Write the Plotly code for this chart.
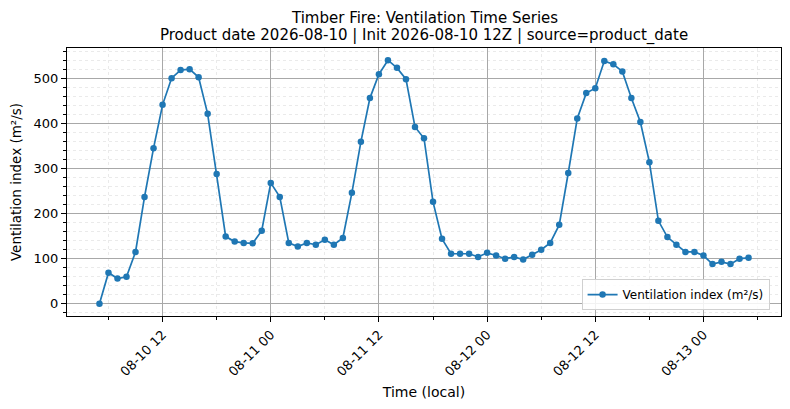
import pandas as pd
import plotly.graph_objects as go

# hourly ventilation index, starting 2026-08-10 05:00 local
start_time = "2026-08-10 05:00"
vent_index = [
    0, 69, 56, 60, 115, 237, 345, 441, 500, 518,
    520, 502, 421, 288, 149, 138, 135, 134, 162, 268,
    237, 135, 127, 135, 131, 142, 131, 146, 246, 359,
    456, 509, 540, 523, 498, 392, 367, 226, 144, 111,
    111, 111, 104, 113, 107, 100, 104, 98, 109, 120,
    135, 175, 290, 411, 467, 478, 538, 531, 515, 456,
    403, 314, 184, 148, 131, 115, 115, 107, 88, 93,
    88, 100, 102,
]
times = pd.date_range(start_time, periods=len(vent_index), freq="h")

title_lines = [
    "Timber Fire: Ventilation Time Series",
    "Product date 2026-08-10 | Init 2026-08-10 12Z | source=product_date",
]
series_name = "Ventilation index (m²/s)"

fig = go.Figure()
fig.add_trace(go.Scatter(
    x=times, y=vent_index, mode="lines+markers", name=series_name,
    line=dict(color="#1f77b4", width=1.7),
    marker=dict(color="#1f77b4", size=6.5),
))

axis_common = dict(
    showline=True, linecolor="black", linewidth=1, mirror=True,
    ticks="outside", ticklen=5, tickcolor="black",
    showgrid=True, gridcolor="#a8a8a8", gridwidth=0.8,
    zeroline=False, tickfont=dict(size=13, color="black"),
    automargin=False,
)
minor_grid = dict(ticks="outside", ticklen=3, tickcolor="black",
                  showgrid=True, gridcolor="#eaeaea", griddash="dot", gridwidth=0.8)

fig.update_xaxes(
    **axis_common,
    range=["2026-08-10 01:24", "2026-08-13 08:36"],
    tick0="2026-08-10 00:00", dtick=12 * 3600 * 1000,
    tickformat="%m-%d %H", tickangle=-45,
    minor=dict(dtick=6 * 3600 * 1000, **minor_grid),
    title=dict(text="Time (local)", font=dict(size=14, color="black"), standoff=9),
)
fig.update_yaxes(
    **axis_common,
    range=[-27, 567], tick0=0, dtick=100,
    minor=dict(dtick=20, **minor_grid),
    title=dict(text=series_name, font=dict(size=13.5, color="black"), standoff=8),
)

# two-line title centred over the plot area
for i, line in enumerate(title_lines):
    fig.add_annotation(
        text=line, x=0.5, y=1, xref="paper", yref="paper",
        xanchor="center", yanchor="bottom", showarrow=False,
        yshift=1 + (len(title_lines) - 1 - i) * 18,
        font=dict(size=15, color="black"),
    )

fig.update_layout(
    width=790, height=409,
    margin=dict(l=67, r=9, t=48, b=93),
    paper_bgcolor="white", plot_bgcolor="white",
    font=dict(family="DejaVu Sans", color="black"),
    legend=dict(x=0.984, y=0.022, xanchor="right", yanchor="bottom",
                bgcolor="rgba(255,255,255,0.85)", bordercolor="#d0d0d0", borderwidth=1,
                font=dict(size=12, color="black"), itemwidth=30),
    showlegend=True,
)

# page body margin would shift the figure, drop it
fig.write_html("out.html", config={"displayModeBar": False},
               post_script="document.body.style.margin='0';")
